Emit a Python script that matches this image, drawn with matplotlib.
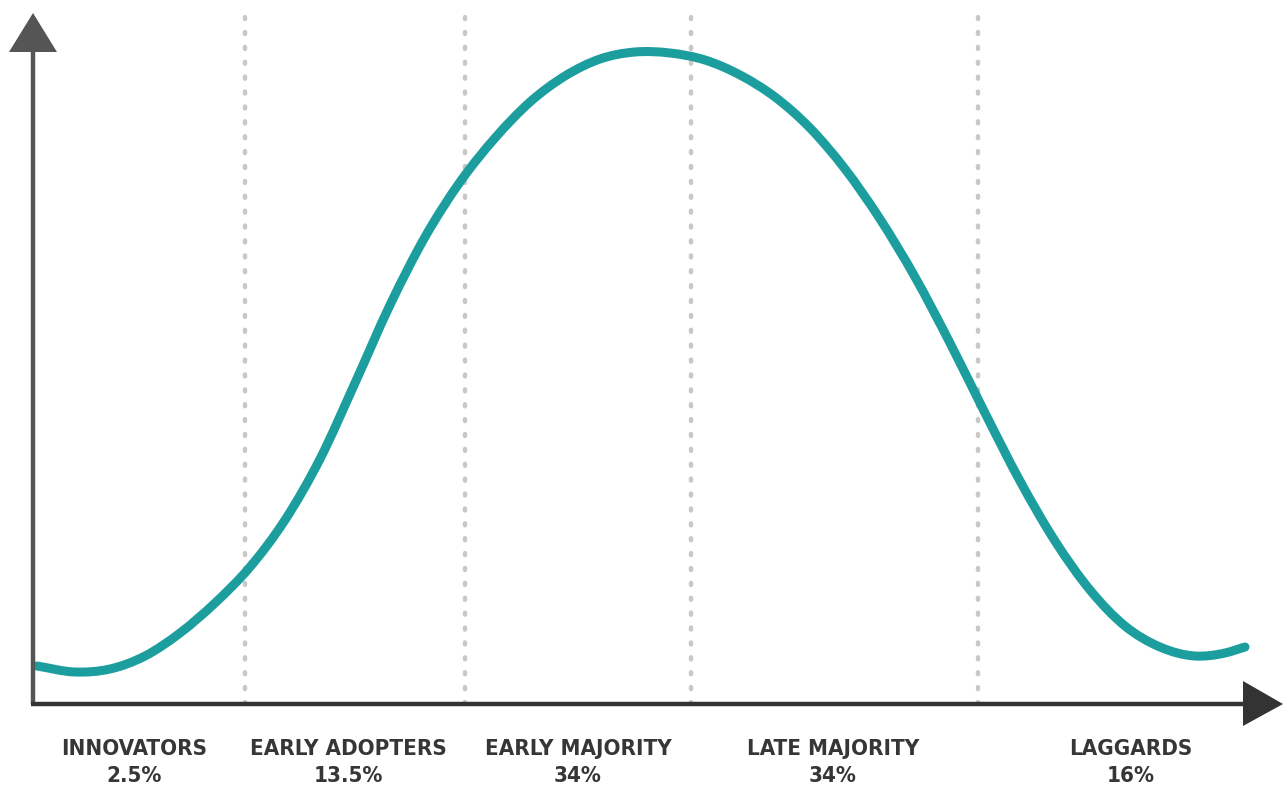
import numpy as np
import matplotlib.pyplot as plt
from matplotlib import font_manager
from matplotlib.font_manager import FontProperties
from matplotlib.path import Path
from matplotlib.patches import PathPatch

# adoption curve (x along the axis, y above the baseline)
curve_x = [4, 42, 77, 112, 147, 182, 217, 252, 287, 322, 357, 392, 427, 462,
           497, 532, 567, 602, 637, 672, 707, 742, 777, 812, 847, 882, 917,
           952, 987, 1022, 1057, 1092, 1127, 1162, 1192, 1212]
curve_y = [38, 32, 35, 48, 71, 101, 137, 184, 245, 321, 399, 467, 522, 566,
           602, 628, 645, 652, 651, 644, 629, 607, 576, 535, 485, 427, 361,
           291, 223, 163, 114, 78, 57, 48, 51, 57]

# boundaries between adopter groups
boundaries = [212, 432, 658, 945]

groups = ['INNOVATORS', 'EARLY ADOPTERS', 'EARLY MAJORITY', 'LATE MAJORITY', 'LAGGARDS']
shares = ['2.5%', '13.5%', '34%', '34%', '16%']
label_x = [101, 315, 545, 800, 1098]


def pick_font(size):
    best = None
    for f in font_manager.fontManager.ttflist:
        tag = f.name + ' ' + f.fname
        if 'Condensed' not in tag and 'Narrow' not in tag:
            continue
        base = f.fname.split('/')[-1]
        if 'Italic' in base or 'Oblique' in base or 'Semi' in base or 'Extra' in base:
            continue
        w = f.weight if isinstance(f.weight, int) else {'bold': 700}.get(f.weight, 400)
        if 'Bold' in base or w >= 700:
            return FontProperties(fname=f.fname, size=size)
        if best is None:
            best = FontProperties(fname=f.fname, size=size, weight='bold')
    if best is not None:
        return best
    return FontProperties(family=['Roboto', 'DejaVu Sans'], weight='bold', size=size - 1)


fp = pick_font(16)

fig = plt.figure(figsize=(12.85, 7.87), dpi=100)
ax = fig.add_axes([0, 0, 1, 1])
ax.set_xlim(-33, 1252)
ax.set_ylim(-83, 704)
ax.axis('off')

teal = '#1c9e9f'

for b in boundaries:
    ax.plot([b, b], [0, 690], color='#c8c8c8', lw=3.2,
            linestyle=(0, (0.45, 2.9)), dash_capstyle='round', zorder=1)

# axes with arrow heads
ax.plot([0, 0], [0, 655], color='#555555', lw=3.2, solid_capstyle='butt', zorder=3)
ax.fill([-24, 24, 0], [652, 652, 691], color='#555555', lw=0, zorder=3)
ax.plot([-2, 1212], [0, 0], color='#333333', lw=3.2, solid_capstyle='butt', zorder=3)
ax.fill([1210, 1210, 1250], [23, -22, 0], color='#333333', lw=0, zorder=3)

# smooth path through the read points (cubic Hermite in x, as Bezier segments)
xs = np.array(curve_x, dtype=float)
ys = np.array(curve_y, dtype=float)
m = np.gradient(ys, xs)
verts = [(xs[0], ys[0])]
codes = [Path.MOVETO]
for i in range(len(xs) - 1):
    d = (xs[i + 1] - xs[i]) / 3
    verts += [(xs[i] + d, ys[i] + m[i] * d),
              (xs[i + 1] - d, ys[i + 1] - m[i + 1] * d),
              (xs[i + 1], ys[i + 1])]
    codes += [Path.CURVE4] * 3
ax.add_patch(PathPatch(Path(verts, codes), fill=False, edgecolor=teal, lw=6.5,
                       capstyle='round', joinstyle='round', zorder=2))

for x, g, s in zip(label_x, groups, shares):
    ax.text(x, -45, g, ha='center', va='center', fontproperties=fp, color='#363636')
    ax.text(x, -72, s, ha='center', va='center', fontproperties=fp, color='#363636')

fig.savefig('out.png', dpi=100, facecolor='white')
